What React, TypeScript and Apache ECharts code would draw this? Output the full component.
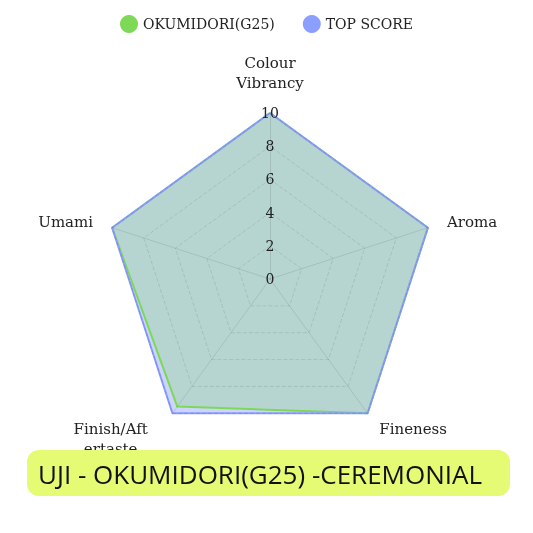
import React, { useEffect, useRef } from "react";
import * as echarts from "echarts";

// listed counter-clockwise from the top (ECharts radar order)
const indicators = ["Colour Vibrancy", "Umami", "Finish/Aftertaste", "Fineness", "Aroma"];
const maxValue = 10;
const okumidori = [10, 10, 9.5, 10, 10];
const topScore = [10, 10, 10, 10, 10];
const seriesNames = ["OKUMIDORI(G25)", "TOP SCORE"];
const titleText = "UJI - OKUMIDORI(G25) -CEREMONIAL";

const GREEN = "#7ed957";
const BLUE = "#8c9eff";

function wrapName(name: string, maxChars: number) {
  const lines: string[] = [];
  let cur = "";
  for (const word of name.split(" ")) {
    let w = word;
    const candidate = cur ? cur + " " + w : w;
    if (candidate.length <= maxChars) {
      cur = candidate;
      continue;
    }
    if (cur) lines.push(cur);
    cur = "";
    while (w.length > maxChars) {
      lines.push(w.slice(0, maxChars));
      w = w.slice(maxChars);
    }
    cur = w;
  }
  if (cur) lines.push(cur);
  if (lines.length === 1) return lines[0];
  const idx = indicators.indexOf(name);
  const angle = Math.PI / 2 + (idx * 2 * Math.PI) / indicators.length;
  const lower = Math.sin(angle) < -0.5;
  return lines.map((l) => "{" + (lower ? "d" : "c") + "|" + l + "}").join("\n");
}

export default function App() {
  const ref = useRef<HTMLDivElement>(null);
  useEffect(() => {
    const chart = echarts.init(ref.current!, null, { renderer: "svg" });
    const serif = "'DejaVu Serif', 'Liberation Serif', serif";
    const lineStyleText = {
      width: 100,
      align: "center",
      color: "#222",
      fontFamily: serif,
      fontSize: 15,
      lineHeight: 20,
    };
    chart.setOption({
      animation: false,
      color: [GREEN, BLUE],
      legend: {
        top: 10,
        left: "center",
        icon: "circle",
        itemWidth: 18,
        itemHeight: 18,
        itemGap: 28,
        textStyle: { fontFamily: serif, fontSize: 14, color: "#222" },
        data: seriesNames,
      },
      radar: {
        z: 3,
        center: [270, 279],
        radius: 166,
        startAngle: 90,
        splitNumber: 5,
        indicator: indicators.map((n, i) => ({
          name: n,
          max: maxValue,
          min: 0,
          axisLabel: { show: i === 0 },
        })),
        axisName: {
          color: "#222",
          fontFamily: serif,
          fontSize: 15,
          lineHeight: 20,
          formatter: (n: string) => wrapName(n, 10),
          rich: {
            c: lineStyleText,
            d: { ...lineStyleText, padding: [20, 0, 0, 0] },
          },
        },
        nameGap: 20,
        axisLine: { lineStyle: { color: "rgba(0,0,0,0.1)" } },
        splitLine: { lineStyle: { color: "rgba(0,0,0,0.1)", type: "dashed" } },
        splitArea: { show: false },
        axisTick: { show: false },
        axisLabel: {
          show: false,
          margin: 0,
          align: "center",
          verticalAlign: "middle",
          color: "#222",
          fontFamily: serif,
          fontSize: 14,
        },
      },
      series: [
        {
          // top score fill (drawn underneath)
          name: seriesNames[1],
          type: "radar",
          symbol: "none",
          itemStyle: { color: BLUE },
          data: [
            {
              name: seriesNames[1],
              value: topScore,
              lineStyle: { width: 0, opacity: 0 },
              areaStyle: { color: BLUE, opacity: 0.44 },
            },
          ],
        },
        {
          name: seriesNames[0],
          type: "radar",
          symbol: "none",
          itemStyle: { color: GREEN },
          data: [
            {
              name: seriesNames[0],
              value: okumidori,
              lineStyle: { width: 2, color: GREEN },
              areaStyle: { color: GREEN, opacity: 0.28 },
            },
          ],
        },
        {
          // top score outline (drawn on top)
          name: seriesNames[1],
          type: "radar",
          symbol: "none",
          itemStyle: { color: BLUE },
          data: [
            {
              name: seriesNames[1],
              value: topScore,
              lineStyle: { width: 2, color: BLUE },
            },
          ],
        },
      ],
      graphic: [
        {
          type: "rect",
          z: 100,
          shape: { x: 27, y: 450, width: 483, height: 46, r: 12 },
          style: { fill: "#e4fb73" },
        },
        {
          type: "text",
          z: 101,
          x: 260,
          y: 474,
          style: {
            text: titleText,
            fill: "#111",
            fontFamily: "'Open Sans', Lato, sans-serif",
            fontSize: 26,
            fontWeight: 500,
            align: "center",
            verticalAlign: "middle",
          },
        },
      ],
    });
    return () => chart.dispose();
  }, []);
  return (
    <div
      ref={ref}
      style={{ position: "fixed", left: 0, top: 0, width: 533, height: 533 }}
    />
  );
}
